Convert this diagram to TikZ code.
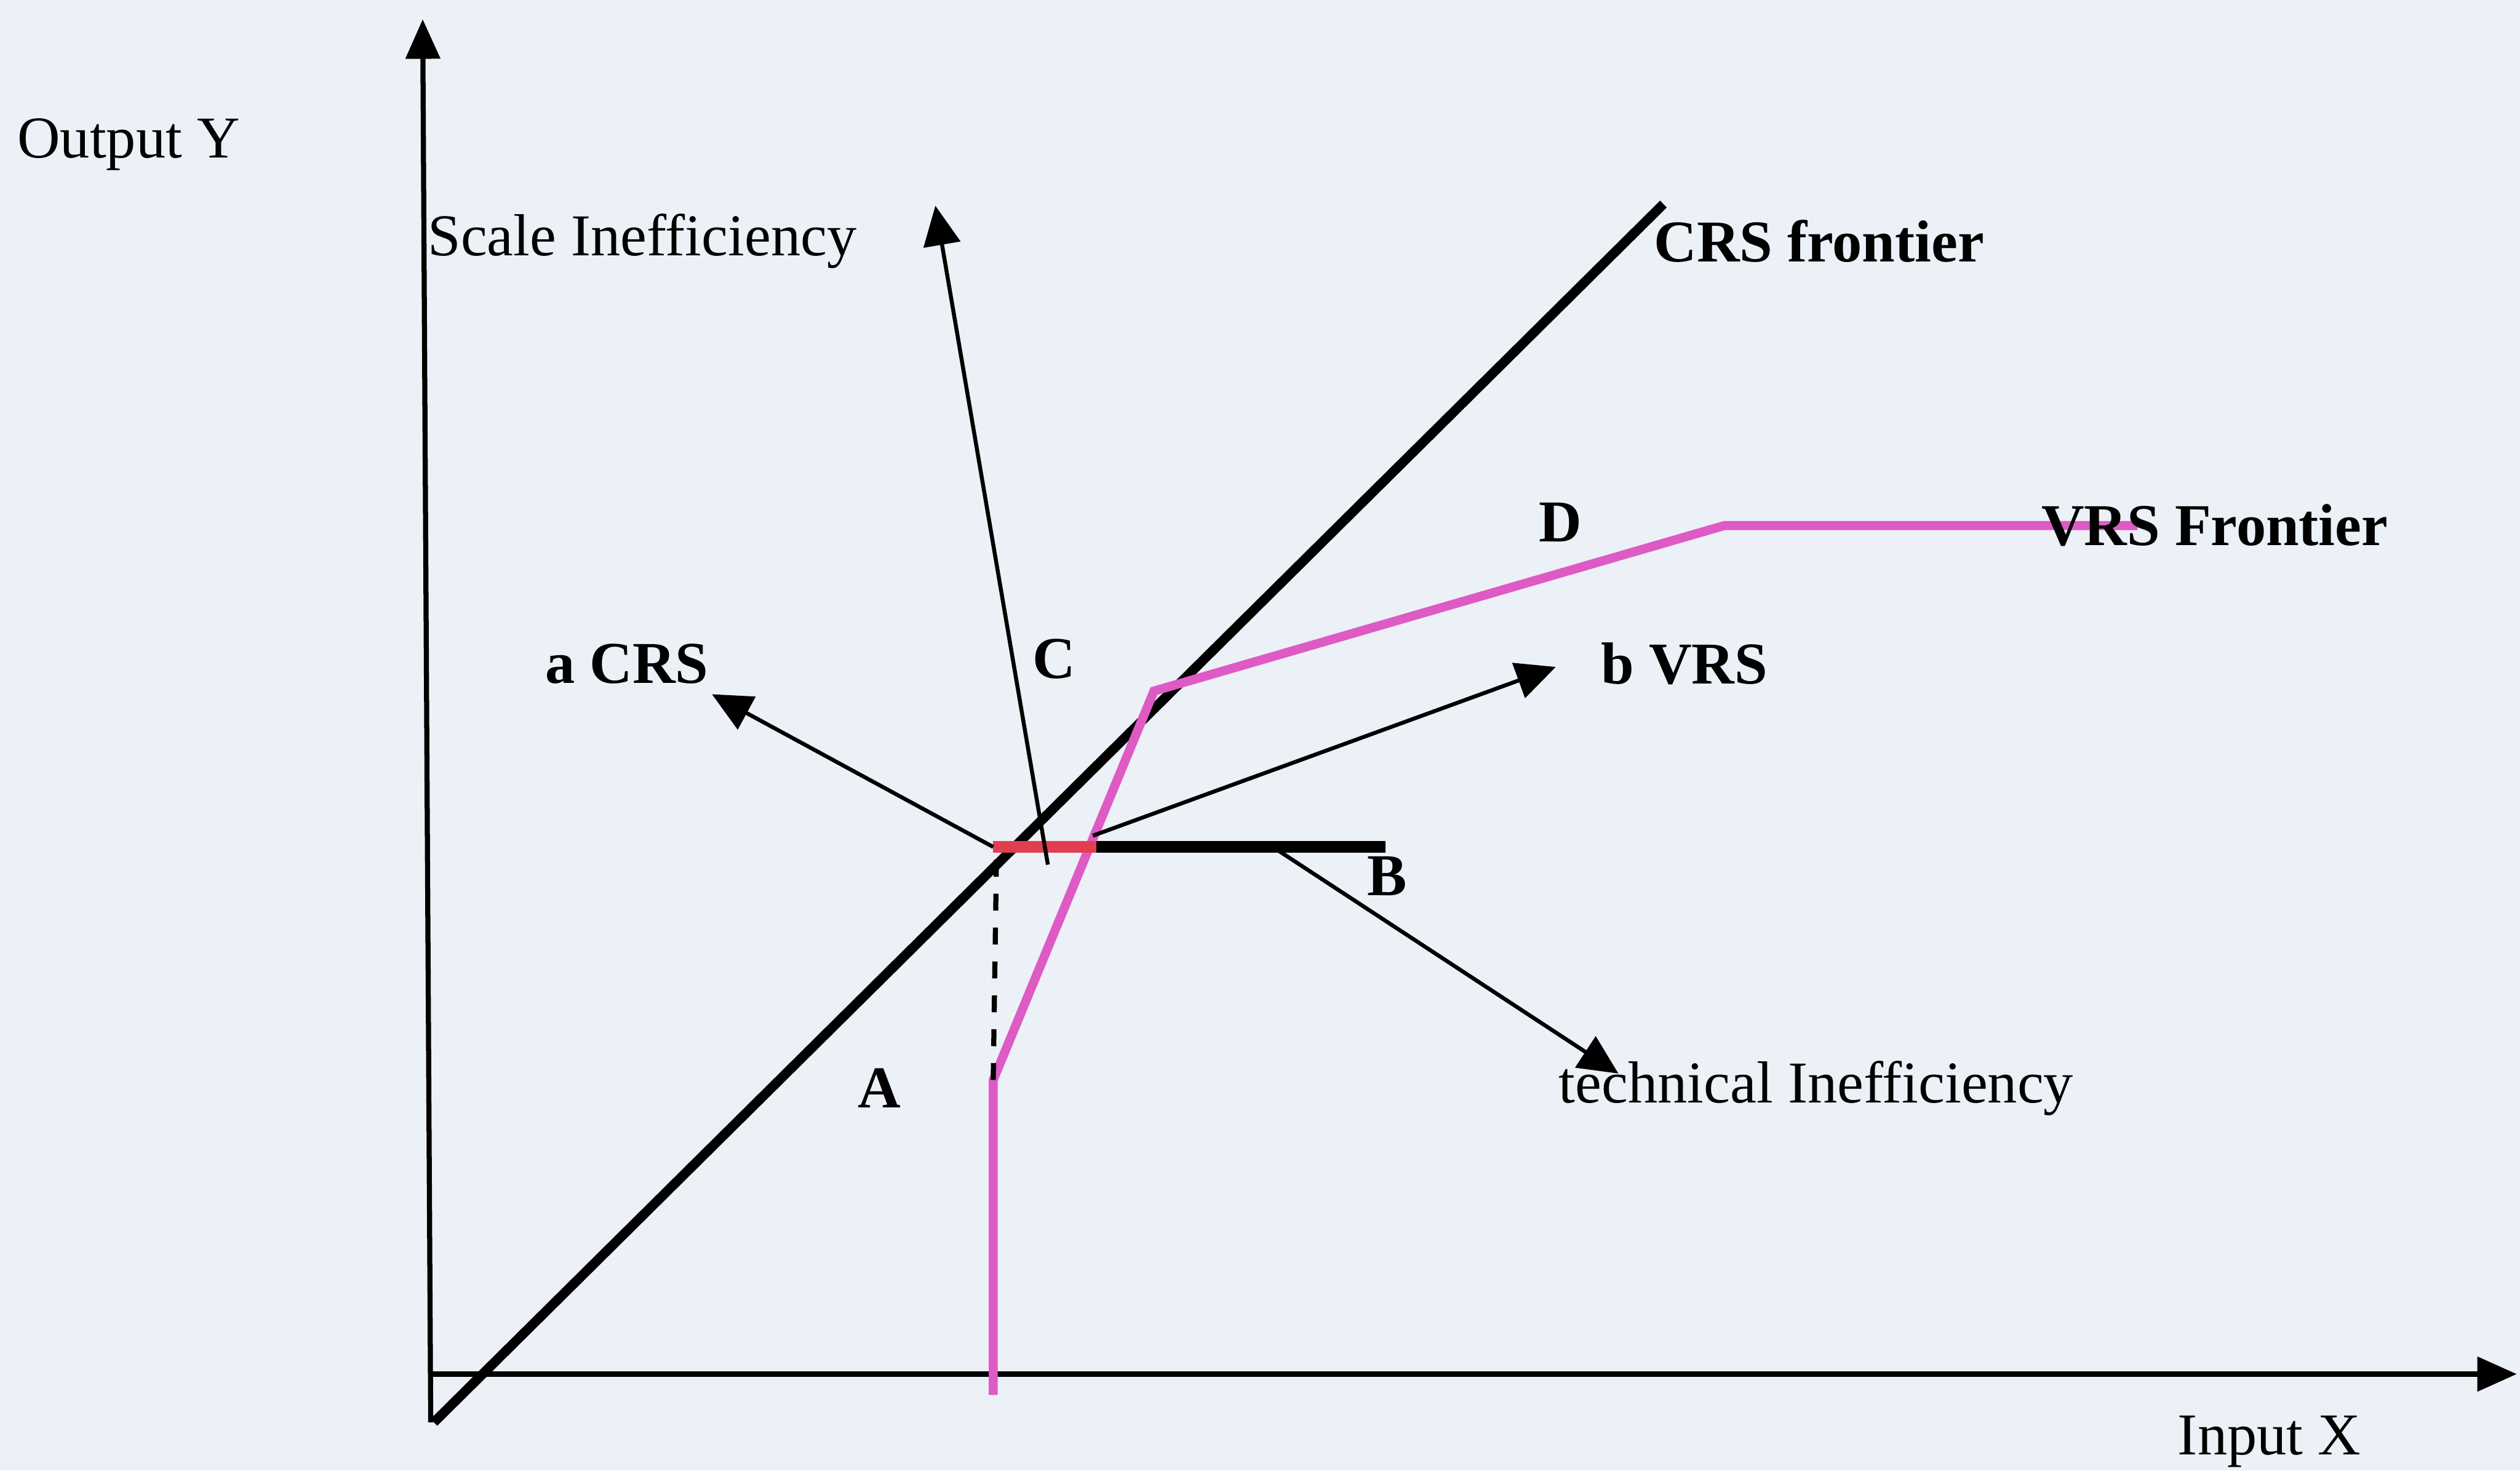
\documentclass[tikz,border=0pt]{standalone}
\usepackage{fontspec}
\setmainfont{Liberation Serif}
\usetikzlibrary{arrows.meta}
\definecolor{paper}{RGB}{236,240,247}
\definecolor{vrspink}{RGB}{222,90,196}
\definecolor{scalered}{RGB}{226,62,82}
\tikzstyle{axis}=[line width=0.9pt, -{Triangle[length=7pt,width=6pt]}]
\tikzstyle{frontier}=[line width=1.7pt]
\tikzstyle{vrsline}=[line width=1.6pt, vrspink]
\tikzstyle{effarrow}=[line width=0.7pt, -{Triangle[length=7pt,width=6.5pt]}]
\tikzstyle{lbl}=[inner sep=1pt, font=\fontsize{10.5}{12}\selectfont]
\tikzstyle{boldlbl}=[inner sep=1pt, font=\fontsize{10.5}{12}\selectfont\bfseries]

\begin{document}
\begin{tikzpicture}
	\fill[paper] (0,0) rectangle (15.68,9.15);
	\useasboundingbox (0,0) rectangle (15.68,9.15);
	
	% axes
	\coordinate (ybot) at (2.68,0.30);
	\coordinate (ytop) at (2.63,9.03);
	\coordinate (xorg) at (2.68,0.60);
	\coordinate (xend) at (15.66,0.60);
	\draw[axis] (ybot) -- (ytop);
	\draw[axis] (xorg) -- (xend);
	\node[lbl] (outY) at (0.80,8.25) {Output Y};
	\node[lbl] (inX) at (14.12,0.18) {Input X};
	
	% CRS frontier
	\coordinate (crs0) at (2.70,0.30);
	\coordinate (crs1) at (10.35,7.88);
	\draw[frontier] (crs0) -- (crs1);
	\node[boldlbl,anchor=west] (crsf) at (10.25,7.65) {CRS frontier};
	
	% VRS frontier
	\coordinate (v0) at (6.18,0.47);
	\coordinate (v1) at (6.18,2.43);
	\coordinate (v2) at (7.18,4.85);
	\coordinate (v3) at (10.73,5.88);
	\coordinate (v4) at (13.30,5.88);
	\draw[vrsline] (v0) -- (v1) -- (v2) -- (v3) -- (v4);
	\node[boldlbl,anchor=west] (vrsf) at (12.66,5.88) {VRS Frontier};
	
	% point A and the projections
	\coordinate (pa) at (6.18,3.88);
	\coordinate (pv) at (6.82,3.88);
	\coordinate (pb) at (8.62,3.88);
	\draw[line width=2pt] (pv) -- (pb);
	\draw[line width=2pt, scalered] (pa) -- (pv);
	\draw[dashed, line width=0.9pt] (6.20,3.80) -- (v1);
	
	\node[boldlbl] (A) at (5.47,2.38) {A};
	\node[boldlbl] (B) at (8.63,3.70) {B};
	\node[boldlbl] (C) at (6.56,5.05) {C};
	\node[boldlbl] (D) at (9.71,5.90) {D};
	
	% arrows
	\coordinate (aend) at (4.43,4.83);
	\coordinate (send) at (5.82,7.87);
	\coordinate (bend) at (9.68,5.00);
	\coordinate (tend) at (10.07,2.47);
	\coordinate (sstart) at (6.52,3.77);
	\coordinate (bstart) at (6.80,3.95);
	\coordinate (tstart) at (7.95,3.86);
	\draw[effarrow] (pa) -- (aend);
	\draw[effarrow] (sstart) -- (send);
	\draw[effarrow] (bstart) -- (bend);
	\draw[effarrow] (tstart) -- (tend);
	
	\node[boldlbl] (acrs) at (3.90,5.02) {a CRS};
	\node[boldlbl] (bvrs) at (10.48,5.02) {b VRS};
	\node[lbl,anchor=west] (scl) at (2.62,7.65) {Scale Inefficiency};
	\node[lbl] (tech) at (11.30,2.38) {technical Inefficiency};
\end{tikzpicture}
\end{document}
